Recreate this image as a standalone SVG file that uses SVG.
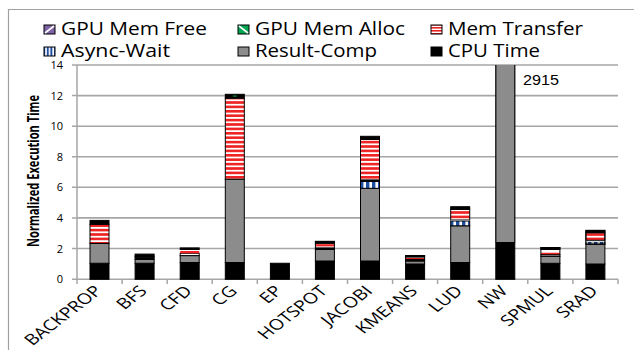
<svg xmlns="http://www.w3.org/2000/svg" width="634" height="350" viewBox="0 0 634 350">
<defs>
<pattern id="red" patternUnits="userSpaceOnUse" width="8" height="4.4"><rect width="8" height="4.4" fill="#fff"/><rect width="8" height="2.6" fill="#ee2222"/></pattern>
<pattern id="blue" patternUnits="userSpaceOnUse" width="6" height="6"><rect width="6" height="6" fill="#fff"/><rect width="3.4" height="6" fill="#1f4fa0"/></pattern>
<pattern id="lred" patternUnits="userSpaceOnUse" width="4" height="3"><rect width="4" height="3" fill="#fff"/><rect width="4" height="1.6" fill="#ee2222"/></pattern>
<pattern id="lblue" patternUnits="userSpaceOnUse" width="3.6" height="4"><rect width="3.6" height="4" fill="#fff"/><rect width="2" height="4" fill="#1f4fa0"/></pattern>
<style>
.leg{font-family:"Open Sans","DejaVu Sans",sans-serif;font-size:18px;fill:#000}
.tick{font-family:"Open Sans","DejaVu Sans",sans-serif;font-size:11px;fill:#000;text-anchor:end}
.xl{font-family:"Open Sans","DejaVu Sans",sans-serif;font-size:15px;fill:#000;text-anchor:end}
.grid{stroke:#a6a6a6;stroke-width:1.6}
.ax{stroke:#a6a6a6;stroke-width:1.5;fill:none}
.bar rect{stroke:#000;stroke-width:1}
.cpu{fill:#000}
.rc{fill:#8c8c8c}
.mt{fill:url(#red)}
.aw{fill:url(#blue)}
.wh{fill:#fff}
.rd{fill:#ee2222}
.mk{stroke:#000;stroke-width:1}
</style>
</defs>
<rect x="0" y="0" width="634" height="350" fill="#fff"/>
<path d="M8.5 350 V9.5 H634" fill="none" stroke="#a0a0a0" stroke-width="1.2"/>

<g id="legend">
<g id="leg-free"><rect class="mk" x="44" y="25" width="11" height="9" fill="#7f63a6"/><line x1="45" y1="33" x2="54" y2="26" stroke="#fff" stroke-width="1.6"/><text class="leg" x="61" y="35" textLength="146" lengthAdjust="spacingAndGlyphs">GPU Mem Free</text></g>
<g id="leg-alloc"><rect class="mk" x="238" y="25" width="11" height="9" fill="#00a651"/><line x1="239" y1="26" x2="248" y2="33" stroke="#fff" stroke-width="1.6"/><text class="leg" x="255" y="35" textLength="150" lengthAdjust="spacingAndGlyphs">GPU Mem Alloc</text></g>
<g id="leg-mt"><rect class="mk" x="431" y="25" width="11" height="9" fill="url(#lred)"/><text class="leg" x="448" y="35" textLength="135" lengthAdjust="spacingAndGlyphs">Mem Transfer</text></g>
<g id="leg-aw"><rect class="mk" x="44" y="47" width="11" height="9" fill="url(#lblue)"/><text class="leg" x="61" y="57" textLength="109" lengthAdjust="spacingAndGlyphs">Async-Wait</text></g>
<g id="leg-rc"><rect class="mk" x="238" y="47" width="11" height="9" fill="#8c8c8c"/><text class="leg" x="255" y="57" textLength="122" lengthAdjust="spacingAndGlyphs">Result-Comp</text></g>
<g id="leg-cpu"><rect class="mk" x="431" y="47" width="11" height="9" fill="#000"/><text class="leg" x="448" y="57" textLength="92" lengthAdjust="spacingAndGlyphs">CPU Time</text></g>
</g>

<g id="grid">
<line class="grid" x1="77" y1="65" x2="618" y2="65"/>
<line class="grid" x1="77" y1="95.6" x2="618" y2="95.6"/>
<line class="grid" x1="77" y1="126.2" x2="618" y2="126.2"/>
<line class="grid" x1="77" y1="156.8" x2="618" y2="156.8"/>
<line class="grid" x1="77" y1="187.3" x2="618" y2="187.3"/>
<line class="grid" x1="77" y1="217.9" x2="618" y2="217.9"/>
<line class="grid" x1="77" y1="248.5" x2="618" y2="248.5"/>
</g>
<g id="axes">
<path class="ax" d="M77 65 V279.3 H618"/>
<path class="ax" d="M72 65 H77 M72 95.6 H77 M72 126.2 H77 M72 156.8 H77 M72 187.3 H77 M72 217.9 H77 M72 248.5 H77 M72 279.3 H77"/>
<path class="ax" d="M77 279.3 V284 M122.1 279.3 V284 M167.2 279.3 V284 M212.2 279.3 V284 M257.3 279.3 V284 M302.4 279.3 V284 M347.5 279.3 V284 M392.6 279.3 V284 M437.6 279.3 V284 M482.7 279.3 V284 M527.8 279.3 V284 M572.9 279.3 V284 M618 279.3 V284"/>
<text class="tick" x="63" y="69">14</text>
<text class="tick" x="63" y="99.6">12</text>
<text class="tick" x="63" y="130.2">10</text>
<text class="tick" x="63" y="160.8">8</text>
<text class="tick" x="63" y="191.3">6</text>
<text class="tick" x="63" y="221.9">4</text>
<text class="tick" x="63" y="252.5">2</text>
<text class="tick" x="63" y="283.3">0</text>
<text transform="translate(39,171) scale(1.45,1) rotate(-90)" text-anchor="middle" font-family="Open Sans, DejaVu Sans, sans-serif" font-size="10.5" font-weight="bold" textLength="152" lengthAdjust="spacingAndGlyphs">Normalized Execution Time</text>
</g>

<g id="bars">
<g id="BACKPROP" class="bar">
<rect class="cpu" x="90" y="263.25" width="19" height="16.05"/>
<rect class="rc" x="90" y="243.4" width="19" height="19.85"/>
<rect class="mt" x="90" y="224.3" width="19" height="19.1"/>
<rect class="cpu" x="90" y="220.4" width="19" height="3.9"/>
</g>
<g id="BFS" class="bar">
<rect class="cpu" x="135.1" y="263.25" width="19" height="16.05"/>
<rect class="rc" x="135.1" y="259.4" width="19" height="3.85"/>
<rect class="cpu" x="135.1" y="257.1" width="19" height="2.3"/>
<rect class="rc" x="135.1" y="256.1" width="19" height="1"/>
<rect class="cpu" x="135.1" y="254.1" width="19" height="2"/>
</g>
<g id="CFD" class="bar">
<rect class="cpu" x="180.2" y="262.5" width="19" height="16.8"/>
<rect class="rc" x="180.2" y="255.6" width="19" height="6.9"/>
<rect class="wh" x="180.2" y="253.3" width="19" height="2.3"/>
<rect class="rd" x="180.2" y="251" width="19" height="2.3" style="stroke:none"/>
<rect class="wh" x="180.2" y="249.5" width="19" height="1.5" style="stroke:none"/>
<rect class="cpu" x="180.2" y="247.9" width="19" height="1.6"/>
</g>
<g id="CG" class="bar">
<rect class="cpu" x="225.3" y="262.5" width="19" height="16.8"/>
<rect class="rc" x="225.3" y="179.2" width="19" height="83.3"/>
<rect class="mt" x="225.3" y="98.1" width="19" height="81.1"/>
<rect class="cpu" x="225.3" y="94.3" width="19" height="3.8"/>
<rect x="232.8" y="95.3" width="4" height="1.6" fill="#0a6b2e" style="stroke:none"/>
</g>
<g id="EP" class="bar">
<rect class="cpu" x="270.4" y="263.25" width="19" height="16.05"/>
</g>
<g id="HOTSPOT" class="bar">
<rect class="cpu" x="315.4" y="261" width="19" height="18.3"/>
<rect class="rc" x="315.4" y="249.5" width="19" height="11.5"/>
<rect class="cpu" x="315.4" y="247.9" width="19" height="1.6"/>
<rect class="wh" x="315.4" y="246.4" width="19" height="1.5" style="stroke:none"/>
<rect class="rd" x="315.4" y="244.1" width="19" height="2.3" style="stroke:none"/>
<rect class="wh" x="315.4" y="243.4" width="19" height="0.7" style="stroke:none"/>
<rect class="cpu" x="315.4" y="241.4" width="19" height="2"/>
<rect x="315.4" y="241.4" width="19" height="6.5" fill="none"/>
</g>
<g id="JACOBI" class="bar">
<rect class="cpu" x="360.5" y="261" width="19" height="18.3"/>
<rect class="rc" x="360.5" y="188.3" width="19" height="72.7"/>
<rect class="aw" x="360.5" y="181.4" width="19" height="6.9"/>
<rect class="cpu" x="360.5" y="179.9" width="19" height="1.5"/>
<rect class="mt" x="360.5" y="139.4" width="19" height="40.5"/>
<rect class="cpu" x="360.5" y="136.3" width="19" height="3.1"/>
</g>
<g id="KMEANS" class="bar">
<rect class="cpu" x="405.6" y="264" width="19" height="15.3"/>
<rect class="rc" x="405.6" y="261" width="19" height="3"/>
<rect class="cpu" x="405.6" y="259.4" width="19" height="1.6"/>
<rect class="rd" x="405.6" y="257.9" width="19" height="1.5" style="stroke:none"/>
<rect class="wh" x="405.6" y="257.1" width="19" height="0.8" style="stroke:none"/>
<rect class="cpu" x="405.6" y="255.6" width="19" height="1.5"/>
<rect x="405.6" y="255.6" width="19" height="3.8" fill="none"/>
</g>
<g id="LUD" class="bar">
<rect class="cpu" x="450.7" y="262.5" width="19" height="16.8"/>
<rect class="rc" x="450.7" y="225.8" width="19" height="36.7"/>
<rect class="aw" x="450.7" y="221" width="19" height="4.8"/>
<rect class="wh" x="450.7" y="220" width="19" height="1" style="stroke:none"/>
<rect class="mt" x="450.7" y="209.3" width="19" height="10.7"/>
<rect class="cpu" x="450.7" y="206.7" width="19" height="2.6"/>
</g>
<g id="NW" class="bar">
<rect class="cpu" x="495.8" y="242.6" width="19" height="36.7"/>
<rect class="rc" x="495.8" y="65" width="19" height="177.6" style="stroke:none"/>
<path d="M495.8 242.6 V65 M514.8 242.6 V65 M495.8 242.6 H514.8" stroke="#000" stroke-width="1.2"/>
</g>
<g id="SPMUL" class="bar">
<rect class="cpu" x="540.9" y="263.25" width="19" height="16.05"/>
<rect class="rc" x="540.9" y="256.4" width="19" height="6.9"/>
<rect class="wh" x="540.9" y="254.8" width="19" height="1.6"/>
<rect class="rd" x="540.9" y="252.5" width="19" height="2.3" style="stroke:none"/>
<rect class="wh" x="540.9" y="249.5" width="19" height="3" style="stroke:none"/>
<rect class="cpu" x="540.9" y="247.5" width="19" height="2"/>
<rect x="540.9" y="247.5" width="19" height="7.3" fill="none"/>
</g>
<g id="SRAD" class="bar">
<rect class="cpu" x="585.9" y="264" width="19" height="15.3"/>
<rect class="rc" x="585.9" y="244.1" width="19" height="19.9"/>
<rect class="aw" x="585.9" y="241.8" width="19" height="2.3"/>
<rect class="wh" x="585.9" y="240.3" width="19" height="1.5" style="stroke:none"/>
<rect class="mt" x="585.9" y="232.7" width="19" height="7.6"/>
<rect class="cpu" x="585.9" y="230.4" width="19" height="2.3"/>
<rect x="585.9" y="230.4" width="19" height="13.7" fill="none"/>
</g>
</g>

<text x="523" y="85" font-family="Liberation Sans, Arial, sans-serif" font-size="14" textLength="36" lengthAdjust="spacingAndGlyphs">2915</text>

<g id="xlabels">
<text class="xl" transform="translate(103,292) scale(1.3,1) rotate(-45)">BACKPROP</text>
<text class="xl" transform="translate(148.1,292) scale(1.3,1) rotate(-45)">BFS</text>
<text class="xl" transform="translate(193.2,292) scale(1.3,1) rotate(-45)">CFD</text>
<text class="xl" transform="translate(238.3,292) scale(1.3,1) rotate(-45)">CG</text>
<text class="xl" transform="translate(283.4,292) scale(1.3,1) rotate(-45)">EP</text>
<text class="xl" transform="translate(328.4,292) scale(1.3,1) rotate(-45)">HOTSPOT</text>
<text class="xl" transform="translate(373.5,292) scale(1.3,1) rotate(-45)">JACOBI</text>
<text class="xl" transform="translate(418.6,292) scale(1.3,1) rotate(-45)">KMEANS</text>
<text class="xl" transform="translate(463.7,292) scale(1.3,1) rotate(-45)">LUD</text>
<text class="xl" transform="translate(508.8,292) scale(1.3,1) rotate(-45)">NW</text>
<text class="xl" transform="translate(553.9,292) scale(1.3,1) rotate(-45)">SPMUL</text>
<text class="xl" transform="translate(598.9,292) scale(1.3,1) rotate(-45)">SRAD</text>
</g>
</svg>
